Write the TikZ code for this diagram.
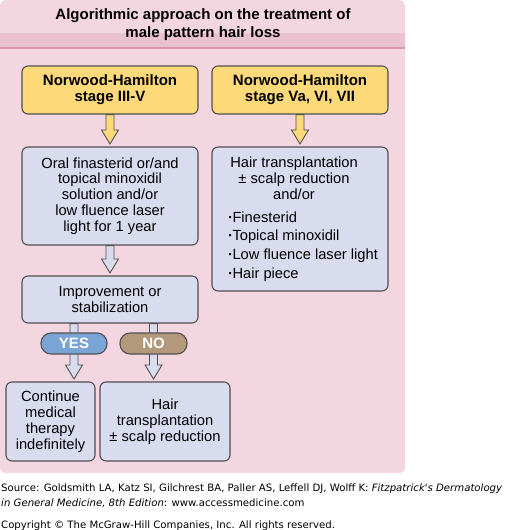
\documentclass[tikz,border=0pt]{standalone}
\usepackage{fontspec}
\setmainfont{Liberation Sans}
\newfontfamily\srcfont{DejaVu Sans}
\usetikzlibrary{calc}
\definecolor{panel}{HTML}{F4D6E0}
\definecolor{band}{HTML}{EAC2CF}
\definecolor{bandline}{HTML}{D996AB}
\definecolor{yel}{HTML}{FED979}
\definecolor{lblue}{HTML}{D9DCEF}
\definecolor{yesc}{HTML}{7BA4D6}
\definecolor{noc}{HTML}{B4987C}
\definecolor{bord}{HTML}{505050}
\pgfdeclarelayer{back}
\pgfdeclarelayer{arrowlayer}
\pgfsetlayers{back,arrowlayer,main}
\newcommand\blockarrow[3]{%
  \filldraw[blockarr, fill=#3] let \p1=(#1), \p2=(#2) in
  (\x1-4pt,\y1) -- (\x1-4pt,\y2+16.5pt) -- (\x1-8.5pt,\y2+16.5pt) -- (\x1,\y2+2.5pt)
  -- (\x1+8.5pt,\y2+16.5pt) -- (\x1+4pt,\y2+16.5pt) -- (\x1+4pt,\y1) -- cycle;}
\newcommand\bitem[1]{\mbox{\makebox[4.5pt][l]{\textbf{·}}#1}}
\begin{document}
\begin{tikzpicture}[x=1pt,y=-1pt,
  box/.style={draw=bord, line width=1.1pt, rounded corners=6pt, inner sep=0pt, align=center},
  ybox/.style={box, fill=yel, font=\bfseries\fontsize{15}{16}\selectfont},
  bbox/.style={box, fill=lblue, font=\fontsize{14.7}{15.9}\selectfont},
  pill/.style={draw=bord, line width=1.1pt, rounded corners=10pt, minimum height=21pt,
    text=white, font=\bfseries\fontsize{15}{15}\selectfont, inner sep=0pt},
  blockarr/.style={draw=bord, line width=0.9pt, line join=miter},
  srctxt/.style={anchor=base west, inner sep=0pt, font=\srcfont\fontsize{10.15}{11}\selectfont}]
\useasboundingbox (0,0) rectangle (506,530);
\begin{pgfonlayer}{back}
  \fill[white] (0,0) rectangle (506,530);
  \fill[panel, rounded corners=6pt] (0,0) rectangle (405,473);
  \fill[band] (0,33) rectangle (405,47);
  \fill[bandline] (0,47) rectangle (405,49);
\end{pgfonlayer}
\node[align=center, inner sep=0pt, font=\bfseries\fontsize{15}{18}\selectfont] (title) at (203,24.2)
  {Algorithmic approach on the treatment of\\male pattern hair loss};
\node[ybox, minimum width=176pt, minimum height=48pt] (lyel) at (110,90) {Norwood-Hamilton\\stage III-V};
\node[ybox, minimum width=176pt, minimum height=48pt] (ryel) at (300,90) {Norwood-Hamilton\\stage Va, VI, VII};
\node[bbox, minimum width=176pt, minimum height=98pt] (lblue) at (110,196)
  {Oral finasterid or/and\\topical minoxidil\\solution and/or\\low fluence laser\\light for 1 year};
\node[bbox, minimum width=176pt, minimum height=144pt] (rblue) at (300,219)
  {\begin{minipage}{144pt}\raggedright\fontsize{14.7}{16}\selectfont
   \makebox[132pt]{Hair transplantation}\\
   \makebox[132pt]{± scalp reduction}\\
   \makebox[132pt]{and/or}\\[6.7pt]
   \bitem{Finesterid}\\[2.6pt]
   \bitem{Topical minoxidil}\\[2.6pt]
   \bitem{Low fluence laser light}\\[2.6pt]
   \bitem{Hair piece}
   \end{minipage}};
\node[bbox, minimum width=176pt, minimum height=47pt] (imp) at (110,299.5) {Improvement or\\stabilization};
\node[pill, fill=yesc, minimum width=66pt] (yes) at (74,343.5) {YES};
\node[pill, fill=noc, minimum width=67pt] (no) at (153.5,343.5) {NO};
\node[bbox, minimum width=89pt, minimum height=79pt] (cont) at (50.5,421.5) {Continue\\medical\\therapy\\indefinitely};
\node[bbox, minimum width=130pt, minimum height=79pt] (hair) at (165,421.5) {Hair\\transplantation\\± scalp reduction};
\coordinate (yesT) at (imp.south -| yes.center);
\coordinate (yesB) at (cont.north -| yes.center);
\coordinate (noT) at (imp.south -| no.center);
\coordinate (noB) at (hair.north -| no.center);
\begin{pgfonlayer}{arrowlayer}
  \blockarrow{lyel.south}{lblue.north}{yel}
  \blockarrow{ryel.south}{rblue.north}{yel}
  \blockarrow{lblue.south}{imp.north}{lblue}
  \blockarrow{yesT}{yesB}{lblue}
  \blockarrow{noT}{noB}{lblue}
\end{pgfonlayer}
\node[srctxt] (src1) at (1,491.5) {Source: Goldsmith LA, Katz SI, Gilchrest BA, Paller AS, Leffell DJ, Wolff K: \textit{Fitzpatrick's Dermatology}};
\node[srctxt] (src2) at (1,506) {\textit{in General Medicine, 8th Edition}: www.accessmedicine.com};
\node[srctxt] (copy) at (1,528.5) {Copyright © The McGraw-Hill Companies, Inc. All rights reserved.};
\end{tikzpicture}
\end{document}
